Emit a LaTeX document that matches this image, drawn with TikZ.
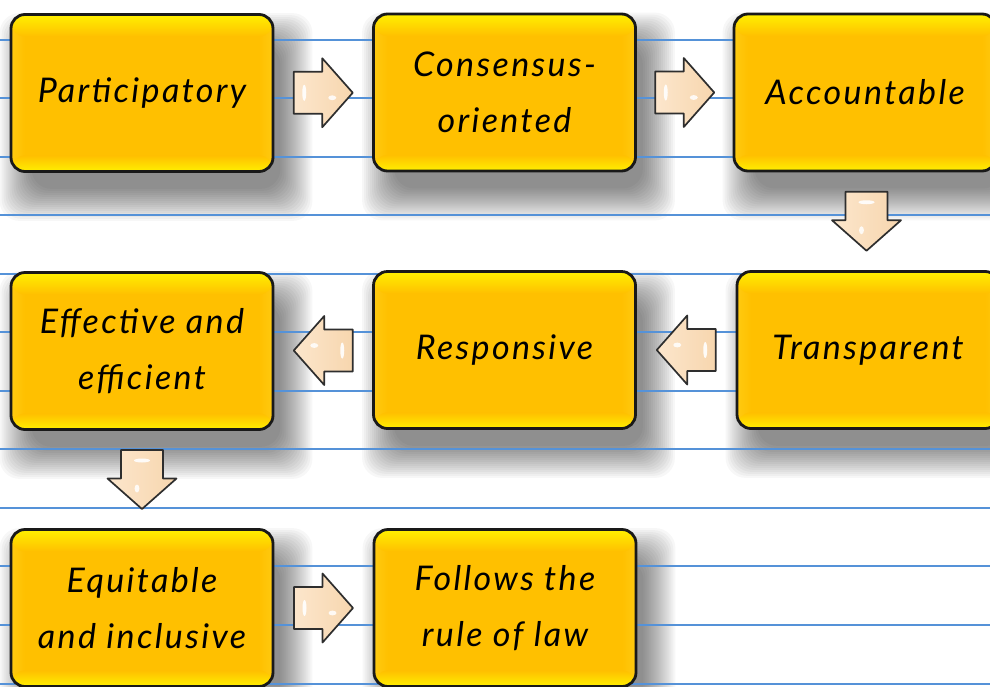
\documentclass[tikz,border=0pt]{standalone}
\usepackage{fontspec}
\setmainfont{Lato}
\usetikzlibrary{calc}

\definecolor{ruleblue}{HTML}{5592D8}
\definecolor{gold}{HTML}{FFC000}
\definecolor{goldlight}{HTML}{FFF000}
\definecolor{goldside}{HTML}{FFCA10}
\definecolor{peach}{HTML}{F7D6AE}
\definecolor{peachlight}{HTML}{FCE6CC}
\definecolor{arrowedge}{HTML}{2E2E2E}

\pgfdeclarelayer{shadowlayer}
\pgfdeclarelayer{rulelayer}
\pgfsetlayers{shadowlayer,rulelayer,main}

\tikzset{
  stage/.style={
    draw=black!90, line width=2.8pt, rounded corners=14pt,
    minimum width=262pt, minimum height=157pt, inner sep=0pt,
    align=center, font=\fontsize{34}{56}\selectfont\itshape\addfontfeatures{LetterSpace=7},
    path picture={
      \fill[gold] (path picture bounding box.south west) rectangle (path picture bounding box.north east);
      \shade[left color=goldside, right color=gold]
        (path picture bounding box.south west) rectangle ([xshift=14pt]path picture bounding box.north west);
      \shade[left color=gold, right color=goldside]
        ([xshift=-14pt]path picture bounding box.south east) rectangle (path picture bounding box.north east);
      \shade[top color=goldlight, bottom color=gold]
        (path picture bounding box.north west) rectangle ([yshift=-22pt]path picture bounding box.north east);
      \shade[top color=gold, bottom color=goldlight]
        ([yshift=16pt]path picture bounding box.south west) rectangle (path picture bounding box.south east);
    }},
  shadowstep/.style={black, opacity=0.03, rounded corners=20pt},
  notebookrule/.style={ruleblue, line width=1.3pt},
  blockarrow/.pic={
    \path[draw=arrowedge, line width=1.7pt, line join=round,
          left color=peachlight, right color=peach]
      (-29.5,-21) -- (-1,-21) -- (-1,-34.5) -- (29.5,0) -- (-1,34.5) -- (-1,21) -- (-29.5,21) -- cycle;
    \fill[white, opacity=0.9] (-19,0) ellipse (2 and 8);
    \fill[white, opacity=0.85] (9,5) ellipse (4 and 2.4);
  }
}

\begin{document}
\begin{tikzpicture}[x=1pt, y=-1pt]
  \useasboundingbox (0,0) rectangle (990,686);

  % stages, row by row
  \node[stage] (b1) at (142,93)    {Participatory};
  \node[stage] (b2) at (504.5,92.5) {Consensus-\\oriented};
  \node[stage] (b3) at (865,92.5)  {Accountable};
  \node[stage] (b4) at (142,351)   {Effective and\\efficient};
  \node[stage] (b5) at (504.5,350) {Responsive};
  \node[stage] (b6) at (868,350)   {Transparent};
  \node[stage] (b7) at (142,608)   {Equitable\\and inclusive};
  \node[stage] (b8) at (505,608)   {Follows the\\rule of law};

  % soft drop shadows: stacked translucent layers, offset down and right
  \begin{pgfonlayer}{shadowlayer}
    \fill[white] (0,0) rectangle (990,686);
    \foreach \n in {b1,b2,b3,b4,b5,b6,b7,b8}
      \foreach \e in {24,22,...,-8}
        \fill[shadowstep]
          ($(\n.north west)+({14-\e},{24-\e})$) rectangle ($(\n.south east)+({14+\e},{24+\e})$);
  \end{pgfonlayer}

  % ruled notebook lines
  \begin{pgfonlayer}{rulelayer}
    \foreach \y in {40,98,157,215,274,332,391,449,508,566,625,684}
      \draw[notebookrule] (0,\y) -- (990,\y);
  \end{pgfonlayer}

  % flow arrows between stages
  \coordinate (a12) at ($(b1.east)!0.5!(b2.west)$);
  \coordinate (a23) at ($(b2.east)!0.5!(b3.west)$);
  \coordinate (a36) at ($(b3.south)!0.5!(b6.north)$);
  \coordinate (a65) at ($(b6.west)!0.5!(b5.east)$);
  \coordinate (a54) at ($(b5.west)!0.5!(b4.east)$);
  \coordinate (a47) at ($(b4.south)!0.5!(b7.north)$);
  \coordinate (a78) at ($(b7.east)!0.5!(b8.west)$);

  \pic at (a12) {blockarrow};
  \pic at (a23) {blockarrow};
  \pic[rotate=-90] at (a36) {blockarrow};
  \pic[rotate=180] at (a65) {blockarrow};
  \pic[rotate=180] at (a54) {blockarrow};
  \pic[rotate=-90] at (a47) {blockarrow};
  \pic at (a78) {blockarrow};
\end{tikzpicture}
\end{document}
